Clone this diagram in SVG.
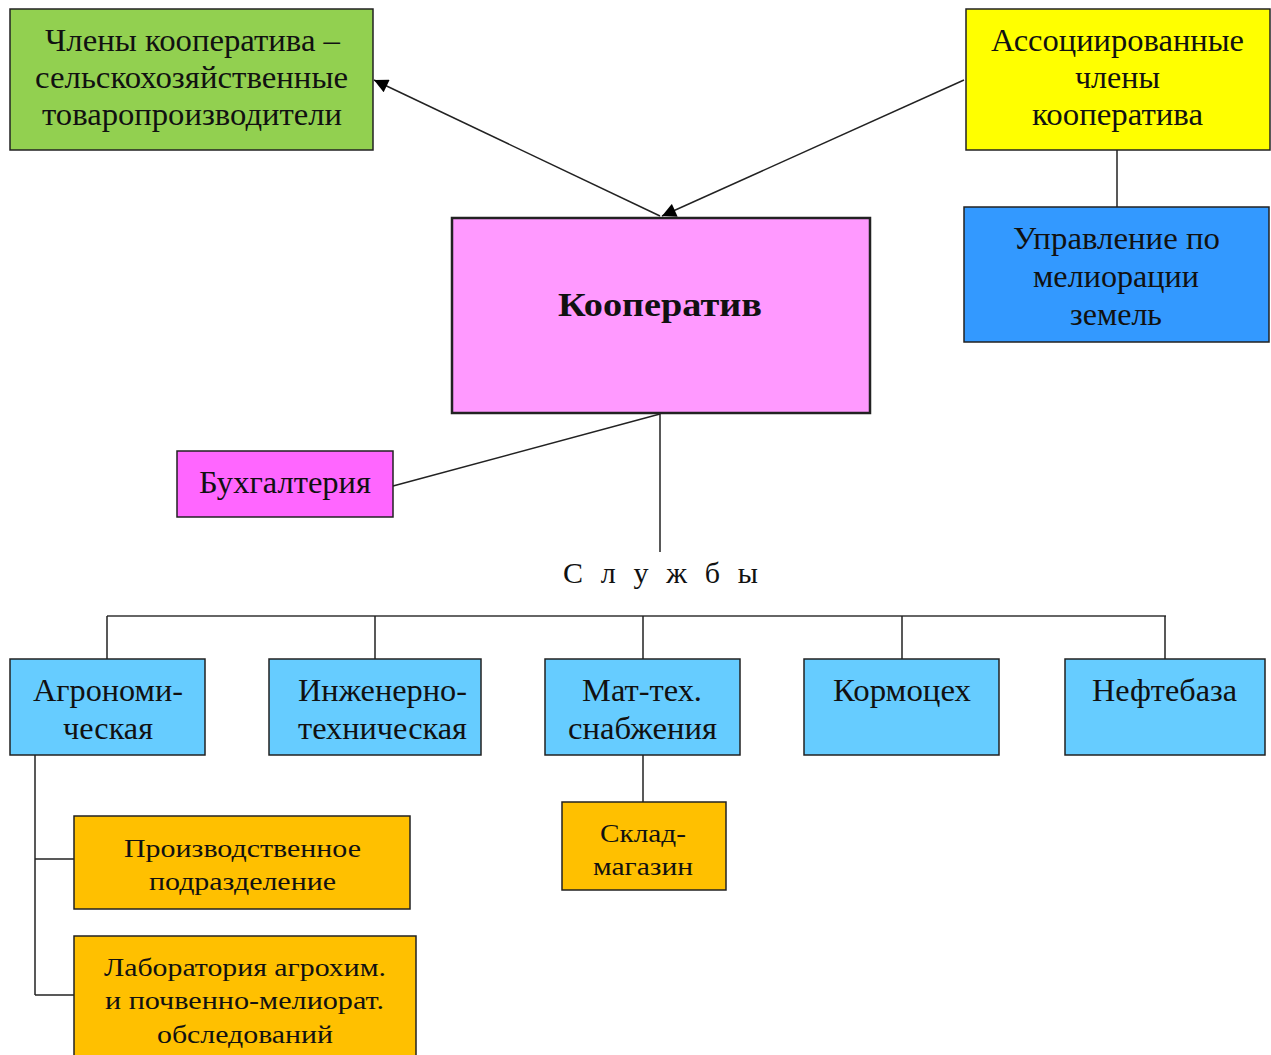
<svg xmlns="http://www.w3.org/2000/svg" width="1271" height="1055" viewBox="0 0 1271 1055">
<style>
rect{stroke:#222;stroke-width:1.5}
text{font-family:"Liberation Serif","Times New Roman",serif;font-size:31px;fill:#111}
.s{font-size:26px}
.c line{stroke:#222;stroke-width:1.5}
.a{stroke:#111;stroke-width:2}
</style>
<defs>
<marker id="ah2" viewBox="0 0 10 10" refX="10" refY="5" markerWidth="16" markerHeight="14" markerUnits="userSpaceOnUse" orient="auto"><path d="M0,0L10,5L0,10z" fill="#000"/></marker>
</defs>
<rect width="1271" height="1055" fill="#fff" style="stroke:none"/>
<g class="c">
<line class="a" x1="660" y1="216" x2="374" y2="80" marker-end="url(#ah2)"/>
<line class="a" x1="964" y1="80" x2="662" y2="216" marker-end="url(#ah2)"/>
<line x1="1117" y1="150" x2="1117" y2="207"/>
<line x1="660" y1="413" x2="660" y2="552"/>
<line x1="660" y1="414" x2="393" y2="486"/>
<line x1="107" y1="616" x2="1166" y2="616" style="stroke:#666;stroke-width:2"/>
<line x1="107" y1="616" x2="107" y2="659"/>
<line x1="375" y1="616" x2="375" y2="659"/>
<line x1="643" y1="616" x2="643" y2="659"/>
<line x1="902" y1="616" x2="902" y2="659"/>
<line x1="1165" y1="616" x2="1165" y2="659"/>
<line x1="35" y1="755" x2="35" y2="995"/>
<line x1="35" y1="859" x2="74" y2="859"/>
<line x1="35" y1="995" x2="74" y2="995"/>
<line x1="643" y1="755" x2="643" y2="802"/>
</g>
<g id="members">
<rect x="10" y="9" width="363" height="141" fill="#92D050"/>
<text x="45" y="51" textLength="295" lengthAdjust="spacingAndGlyphs">Члены кооператива –</text>
<text x="35" y="88" textLength="313" lengthAdjust="spacingAndGlyphs">сельскохозяйственные</text>
<text x="42" y="125" textLength="300" lengthAdjust="spacingAndGlyphs">товаропроизводители</text>
</g>
<g id="assoc">
<rect x="966" y="9" width="304" height="141" fill="#FFFF00"/>
<text x="991" y="51" textLength="253" lengthAdjust="spacingAndGlyphs">Ассоциированные</text>
<text x="1075" y="88" textLength="85" lengthAdjust="spacingAndGlyphs">члены</text>
<text x="1032" y="125" textLength="171" lengthAdjust="spacingAndGlyphs">кооператива</text>
</g>
<g id="melior">
<rect x="964" y="207" width="305" height="135" fill="#3399FF"/>
<text x="1013" y="249" textLength="207" lengthAdjust="spacingAndGlyphs">Управление по</text>
<text x="1033" y="287" textLength="166" lengthAdjust="spacingAndGlyphs">мелиорации</text>
<text x="1070" y="325" textLength="92" lengthAdjust="spacingAndGlyphs">земель</text>
</g>
<g id="coop">
<rect x="452" y="218" width="418" height="195" fill="#FF99FF" style="stroke-width:2.5"/>
<text x="558" y="316" textLength="204" lengthAdjust="spacingAndGlyphs" style="font-weight:bold;font-size:33px">Кооператив</text>
</g>
<g id="buh">
<rect x="177" y="451" width="216" height="66" fill="#FF66FF"/>
<text x="199" y="493" textLength="172" lengthAdjust="spacingAndGlyphs">Бухгалтерия</text>
</g>
<text x="563" y="583" textLength="195" lengthAdjust="spacing" style="font-size:30px">С л у ж б ы</text>
<g id="agro">
<rect x="10" y="659" width="195" height="96" fill="#66CCFF"/>
<text x="33" y="701" textLength="150" lengthAdjust="spacingAndGlyphs">Агрономи-</text>
<text x="63" y="739" textLength="90" lengthAdjust="spacingAndGlyphs">ческая</text>
</g>
<g id="eng">
<rect x="269" y="659" width="212" height="96" fill="#66CCFF"/>
<text x="298" y="701" textLength="169" lengthAdjust="spacingAndGlyphs">Инженерно-</text>
<text x="298" y="739" textLength="169" lengthAdjust="spacingAndGlyphs">техническая</text>
</g>
<g id="mat">
<rect x="545" y="659" width="195" height="96" fill="#66CCFF"/>
<text x="582" y="701" textLength="120" lengthAdjust="spacingAndGlyphs">Мат-тех.</text>
<text x="568" y="739" textLength="149" lengthAdjust="spacingAndGlyphs">снабжения</text>
</g>
<g id="korm">
<rect x="804" y="659" width="195" height="96" fill="#66CCFF"/>
<text x="833" y="701" textLength="138" lengthAdjust="spacingAndGlyphs">Кормоцех</text>
</g>
<g id="neft">
<rect x="1065" y="659" width="200" height="96" fill="#66CCFF"/>
<text x="1092" y="701" textLength="145" lengthAdjust="spacingAndGlyphs">Нефтебаза</text>
</g>
<g id="prod">
<rect x="74" y="816" width="336" height="93" fill="#FFC000"/>
<text class="s" x="124" y="857" textLength="237" lengthAdjust="spacingAndGlyphs">Производственное</text>
<text class="s" x="149" y="890" textLength="187" lengthAdjust="spacingAndGlyphs">подразделение</text>
</g>
<g id="lab">
<rect x="74" y="936" width="342" height="125" fill="#FFC000"/>
<text class="s" x="104" y="976" textLength="282" lengthAdjust="spacingAndGlyphs">Лаборатория агрохим.</text>
<text class="s" x="105" y="1009" textLength="279" lengthAdjust="spacingAndGlyphs">и почвенно-мелиорат.</text>
<text class="s" x="157" y="1043" textLength="176" lengthAdjust="spacingAndGlyphs">обследований</text>
</g>
<g id="sklad">
<rect x="562" y="802" width="164" height="88" fill="#FFC000"/>
<text class="s" x="600" y="842" textLength="86" lengthAdjust="spacingAndGlyphs">Склад-</text>
<text class="s" x="593" y="875" textLength="100" lengthAdjust="spacingAndGlyphs">магазин</text>
</g>
</svg>
